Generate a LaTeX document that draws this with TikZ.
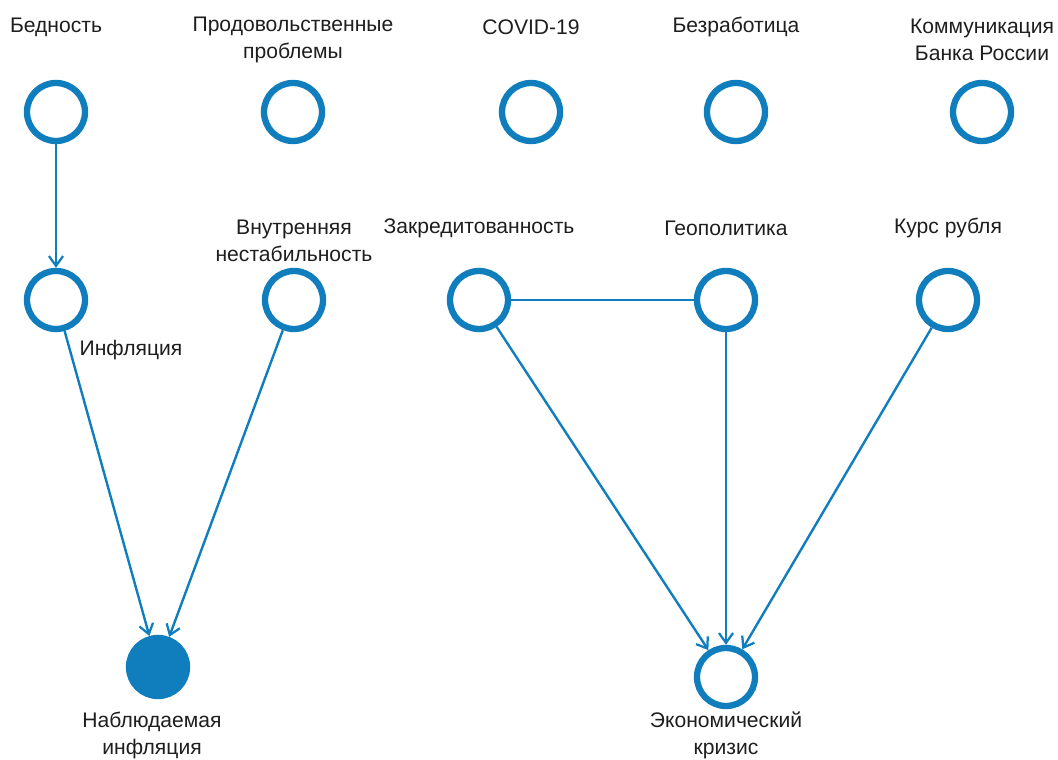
\documentclass[tikz,border=0pt]{standalone}
\usepackage{fontspec}
\setmainfont{Liberation Sans}
\usepackage{xcolor}
\usetikzlibrary{arrows.meta}
\definecolor{nodeblue}{RGB}{16,126,189}
\definecolor{labelgray}{RGB}{30,30,30}

\begin{document}
\begin{tikzpicture}[x=0.025cm, y=-0.025cm,
		factor/.style={circle, draw=nodeblue, line width=4.5pt, minimum size=1.45cm, inner sep=0pt},
		observed/.style={factor, fill=nodeblue},
		caption/.style={font=\fontsize{15}{19.2}\selectfont, text=labelgray, align=center, inner sep=0pt},
		link/.style={draw=nodeblue, line width=1.7pt},
		dep/.style={link, -{Straight Barb[length=7pt, width=10pt, line width=1.6pt]}}
	]
		\useasboundingbox (0,0) rectangle (1058,760);
		% верхний ряд
		\node[factor] (bed) at (56,112) {};
		\node[factor] (prod) at (293,112) {};
		\node[factor] (covid) at (531,112) {};
		\node[factor] (bezr) at (736,112) {};
		\node[factor] (komm) at (982,112) {};
		\node[caption] (bed-l) at (56,27) {Бедность};
		\node[caption] (prod-l) at (293,40) {Продовольственные\\проблемы};
		\node[caption] (covid-l) at (531,27) {COVID-19};
		\node[caption] (bezr-l) at (736,27) {Безработица};
		\node[caption] (komm-l) at (982,40) {Коммуникация\\Банка России};
		% средний ряд
		\node[factor] (infl) at (56,300) {};
		\node[factor] (vnutr) at (294,300) {};
		\node[factor] (zakr) at (479,300) {};
		\node[factor] (geo) at (726,300) {};
		\node[factor] (kurs) at (948,300) {};
		\node[caption] (infl-l) at (131,350) {Инфляция};
		\node[caption] (vnutr-l) at (294,241) {Внутренняя\\нестабильность};
		\node[caption] (zakr-l) at (479,228) {Закредитованность};
		\node[caption] (geo-l) at (726,228) {Геополитика};
		\node[caption] (kurs-l) at (948,228) {Курс рубля};
		% нижний ряд
		\node[observed] (nabl) at (158,667) {};
		\node[factor] (krizis) at (726,677) {};
		\node[caption] (nabl-l) at (152,735) {Наблюдаемая\\инфляция};
		\node[caption] (krizis-l) at (726,735) {Экономический\\кризис};
		% связи
		\draw[dep] (bed) -- (infl);
		\draw[dep] (infl) -- (nabl);
		\draw[dep] (vnutr) -- (nabl);
		\draw[link] (zakr) -- (geo);
		\draw[dep] (zakr) -- (krizis);
		\draw[dep] (geo) -- (krizis);
		\draw[dep] (kurs) -- (krizis);
	\end{tikzpicture}
\end{document}
